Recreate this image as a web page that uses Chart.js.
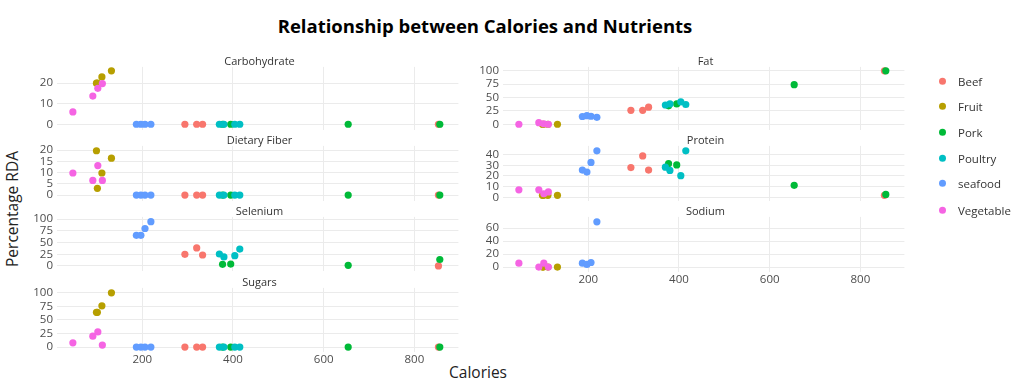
<!DOCTYPE html>
<html>
<head>
<meta charset="utf-8">
<title>Relationship between Calories and Nutrients</title>
<script src="https://cdn.jsdelivr.net/npm/chart.js@4.4.0/dist/chart.umd.min.js"></script>
<style>
    body { margin: 0; background: #fff; font-family: "Open Sans", sans-serif; }
    #wrap { position: relative; width: 1024px; height: 383px; overflow: hidden; }
    #wrap canvas { position: absolute; }
    .txt { position: absolute; white-space: nowrap; }
    .main-title { left: 485px; top: 25px; transform: translate(-50%, -50%); font-size: 18.5px; font-weight: bold; color: #000; }
    .strip { font-size: 11px; color: #333; transform: translate(-50%, -50%); }
    .axis-title { font-size: 15.5px; color: #222; }
    .legend-item { position: absolute; left: 939px; font-size: 11.5px; color: #333; transform: translateY(-50%); }
    .legend-item i { display: inline-block; width: 7px; height: 7px; border-radius: 50%; margin-right: 12px; vertical-align: middle; }
    .legend-item span { vertical-align: middle; }
</style>
</head>
<body>
<div id="wrap">
    <div class="txt main-title">Relationship between Calories and Nutrients</div>
    <div class="txt axis-title" style="left:478px; top:372px; transform:translate(-50%,-50%);">Calories</div>
    <div class="txt axis-title" style="left:12px; top:209px; transform:translate(-50%,-50%) rotate(-90deg);">Percentage RDA</div>
</div>
<script>
// categories and colours
const categories = ['Beef', 'Fruit', 'Pork', 'Poultry', 'seafood', 'Vegetable'];
const colors = ['#F8766D', '#B79F00', '#00BA38', '#00BFC4', '#619CFF', '#F564E3'];

// one entry per food
const foodCategory = [
    'Beef', 'Beef', 'Beef', 'Beef',
    'Fruit', 'Fruit', 'Fruit', 'Fruit',
    'Pork', 'Pork', 'Pork', 'Pork',
    'Poultry', 'Poultry', 'Poultry', 'Poultry',
    'seafood', 'seafood', 'seafood', 'seafood',
    'Vegetable', 'Vegetable', 'Vegetable', 'Vegetable'
];
const calories = [294, 320, 333, 853, 99, 101, 111, 132, 377, 395, 654, 856, 370, 380, 404, 415, 187, 197, 206, 219, 47, 91, 102, 112];

// percentage RDA per nutrient (null = not reported)
const carbohydrate = [0, 0, 0, 0, 20, 20, 23, 26, 0, 0, 0, 0, 0, 0, 0, 0, 0, 0, 0, 0, 6, 13.7, 17.5, 19.8];
const dietaryFiber = [0, 0, 0, 0, 19.7, 3, 9.8, 16.4, 0, 0, 0, 0, 0, 0, 0, 0, 0, 0, 0, 0, 9.8, 6.5, 13.1, 6.5];
const sugars = [0, 0, 0, 0, 64, 64, 76, 100, 0, 0, 0, 0, 0, 0, 0, 0, 0, 0, 0, 0, 7.9, 20, 27.9, 3.6];
const fat = [26, 26, 32, 100, 0, 0, 0, 0, 34.5, 38, 74, 100, 36, 38, 42, 37, 14.5, 16, 15, 13, 0, 3, 1, 0];
const protein = [27.9, 38.8, 25.5, 1.8, 1.8, 1.8, 1.8, 1.8, 31.5, 30.3, 11.2, 2.7, 28.2, 25.2, 20.3, 43.6, 25.5, 23.6, 32.7, 43.6, 7, 7, 3.3, 5];
const selenium = [24.8, 38.6, 23.4, 0, null, null, null, null, 3.4, 4, 1.4, 13.8, 25.5, 19.3, 22, 36, 65.5, 65.5, 80, 94.5, null, null, null, null];
const sodium = [null, null, null, null, 0, 0, 0, 0, null, null, null, null, null, null, null, null, 6, 4, 7, 69.6, 6, 0, 6, 0];

// tick labels
const xTicks = [200, 400, 600, 800];
const carbTicks = [0, 10, 20];
const fatTicks = [0, 25, 50, 75, 100];
const fiberTicks = [0, 5, 10, 15, 20];
const proteinTicks = [0, 10, 20, 30, 40];
const seleniumTicks = [0, 25, 50, 75, 100];
const sodiumTicks = [0, 20, 40, 60];
const sugarTicks = [0, 25, 50, 75, 100];

// layout
const colLeft = [57, 503];
const plotW = 405;
const yAxisW = 50;
const xAxisH = 18;
const padT = 10, padB = 10;
const xRange = [12, 897];

const panels = [
    { title: 'Carbohydrate', values: carbohydrate, ticks: carbTicks, col: 0, top: 66, bottom: 131, min: -2.84, max: 27.9 },
    { title: 'Fat', values: fat, ticks: fatTicks, col: 1, top: 66, bottom: 131, min: -10.9, max: 107.3 },
    { title: 'Dietary Fiber', values: dietaryFiber, ticks: fiberTicks, col: 0, top: 145, bottom: 202, min: -2.7, max: 21.85 },
    { title: 'Protein', values: protein, ticks: proteinTicks, col: 1, top: 145, bottom: 202, min: -3.6, max: 48.2 },
    { title: 'Selenium', values: selenium, ticks: seleniumTicks, col: 0, top: 216, bottom: 272, min: -11, max: 104.8 },
    { title: 'Sodium', values: sodium, ticks: sodiumTicks, col: 1, top: 216, bottom: 272, min: -7.6, max: 77.1, showX: true },
    { title: 'Sugars', values: sugars, ticks: sugarTicks, col: 0, top: 287, bottom: 352, min: -9.1, max: 109.1, showX: true }
];

Chart.defaults.font.family = '"Open Sans", sans-serif';

const wrap = document.getElementById('wrap');

function datasetsFor(values) {
    return categories.map((cat, ci) => ({
        label: cat,
        data: calories
            .map((c, i) => ({ x: c, y: values[i], cat: foodCategory[i] }))
            .filter(d => d.cat === cat && d.y !== null),
        backgroundColor: colors[ci],
        borderWidth: 0,
        pointRadius: 3.6,
        pointHoverRadius: 3.6,
        order: categories.length - ci
    }));
}

panels.forEach(p => {
    const showX = !!p.showX;
    const plotH = p.bottom - p.top;
    const cv = document.createElement('canvas');
    cv.width = yAxisW + plotW;
    cv.height = padT + plotH + (showX ? xAxisH : 0) + padB;
    cv.style.left = (colLeft[p.col] - yAxisW) + 'px';
    cv.style.top = (p.top - padT) + 'px';
    wrap.appendChild(cv);

    // facet strip title
    const strip = document.createElement('div');
    strip.className = 'txt strip';
    strip.textContent = p.title;
    strip.style.left = (colLeft[p.col] + plotW / 2) + 'px';
    strip.style.top = (p.top - 6.5) + 'px';
    wrap.appendChild(strip);

    new Chart(cv, {
        type: 'scatter',
        data: { datasets: datasetsFor(p.values) },
        options: {
            responsive: false,
            animation: false,
            events: [],
            layout: { padding: { top: padT, bottom: padB, left: 0, right: 0 } },
            plugins: { legend: { display: false }, tooltip: { enabled: false } },
            scales: {
                x: {
                    type: 'linear',
                    min: xRange[0],
                    max: xRange[1],
                    afterBuildTicks: axis => { axis.ticks = xTicks.map(v => ({ value: v })); },
                    afterFit: axis => { axis.height = showX ? xAxisH : 0; },
                    border: { display: false },
                    grid: { color: '#ebebeb', lineWidth: 1, drawTicks: false },
                    ticks: { display: showX, autoSkip: false, color: '#4d4d4d', font: { size: 11.5 }, padding: 1, maxRotation: 0 }
                },
                y: {
                    min: p.min,
                    max: p.max,
                    afterBuildTicks: axis => { axis.ticks = p.ticks.map(v => ({ value: v })); },
                    afterFit: axis => { axis.width = yAxisW; },
                    border: { display: false },
                    grid: { color: '#ebebeb', lineWidth: 1, drawTicks: false },
                    ticks: { autoSkip: false, color: '#4d4d4d', font: { size: 11.5 }, padding: 4 }
                }
            }
        }
    });
});

// legend
const legendY = [81, 106, 132, 158, 183, 210];
categories.forEach((cat, i) => {
    const item = document.createElement('div');
    item.className = 'legend-item';
    item.style.top = legendY[i] + 'px';
    item.innerHTML = '<i style="background:' + colors[i] + '"></i><span>' + cat + '</span>';
    wrap.appendChild(item);
});
</script>
</body>
</html>
